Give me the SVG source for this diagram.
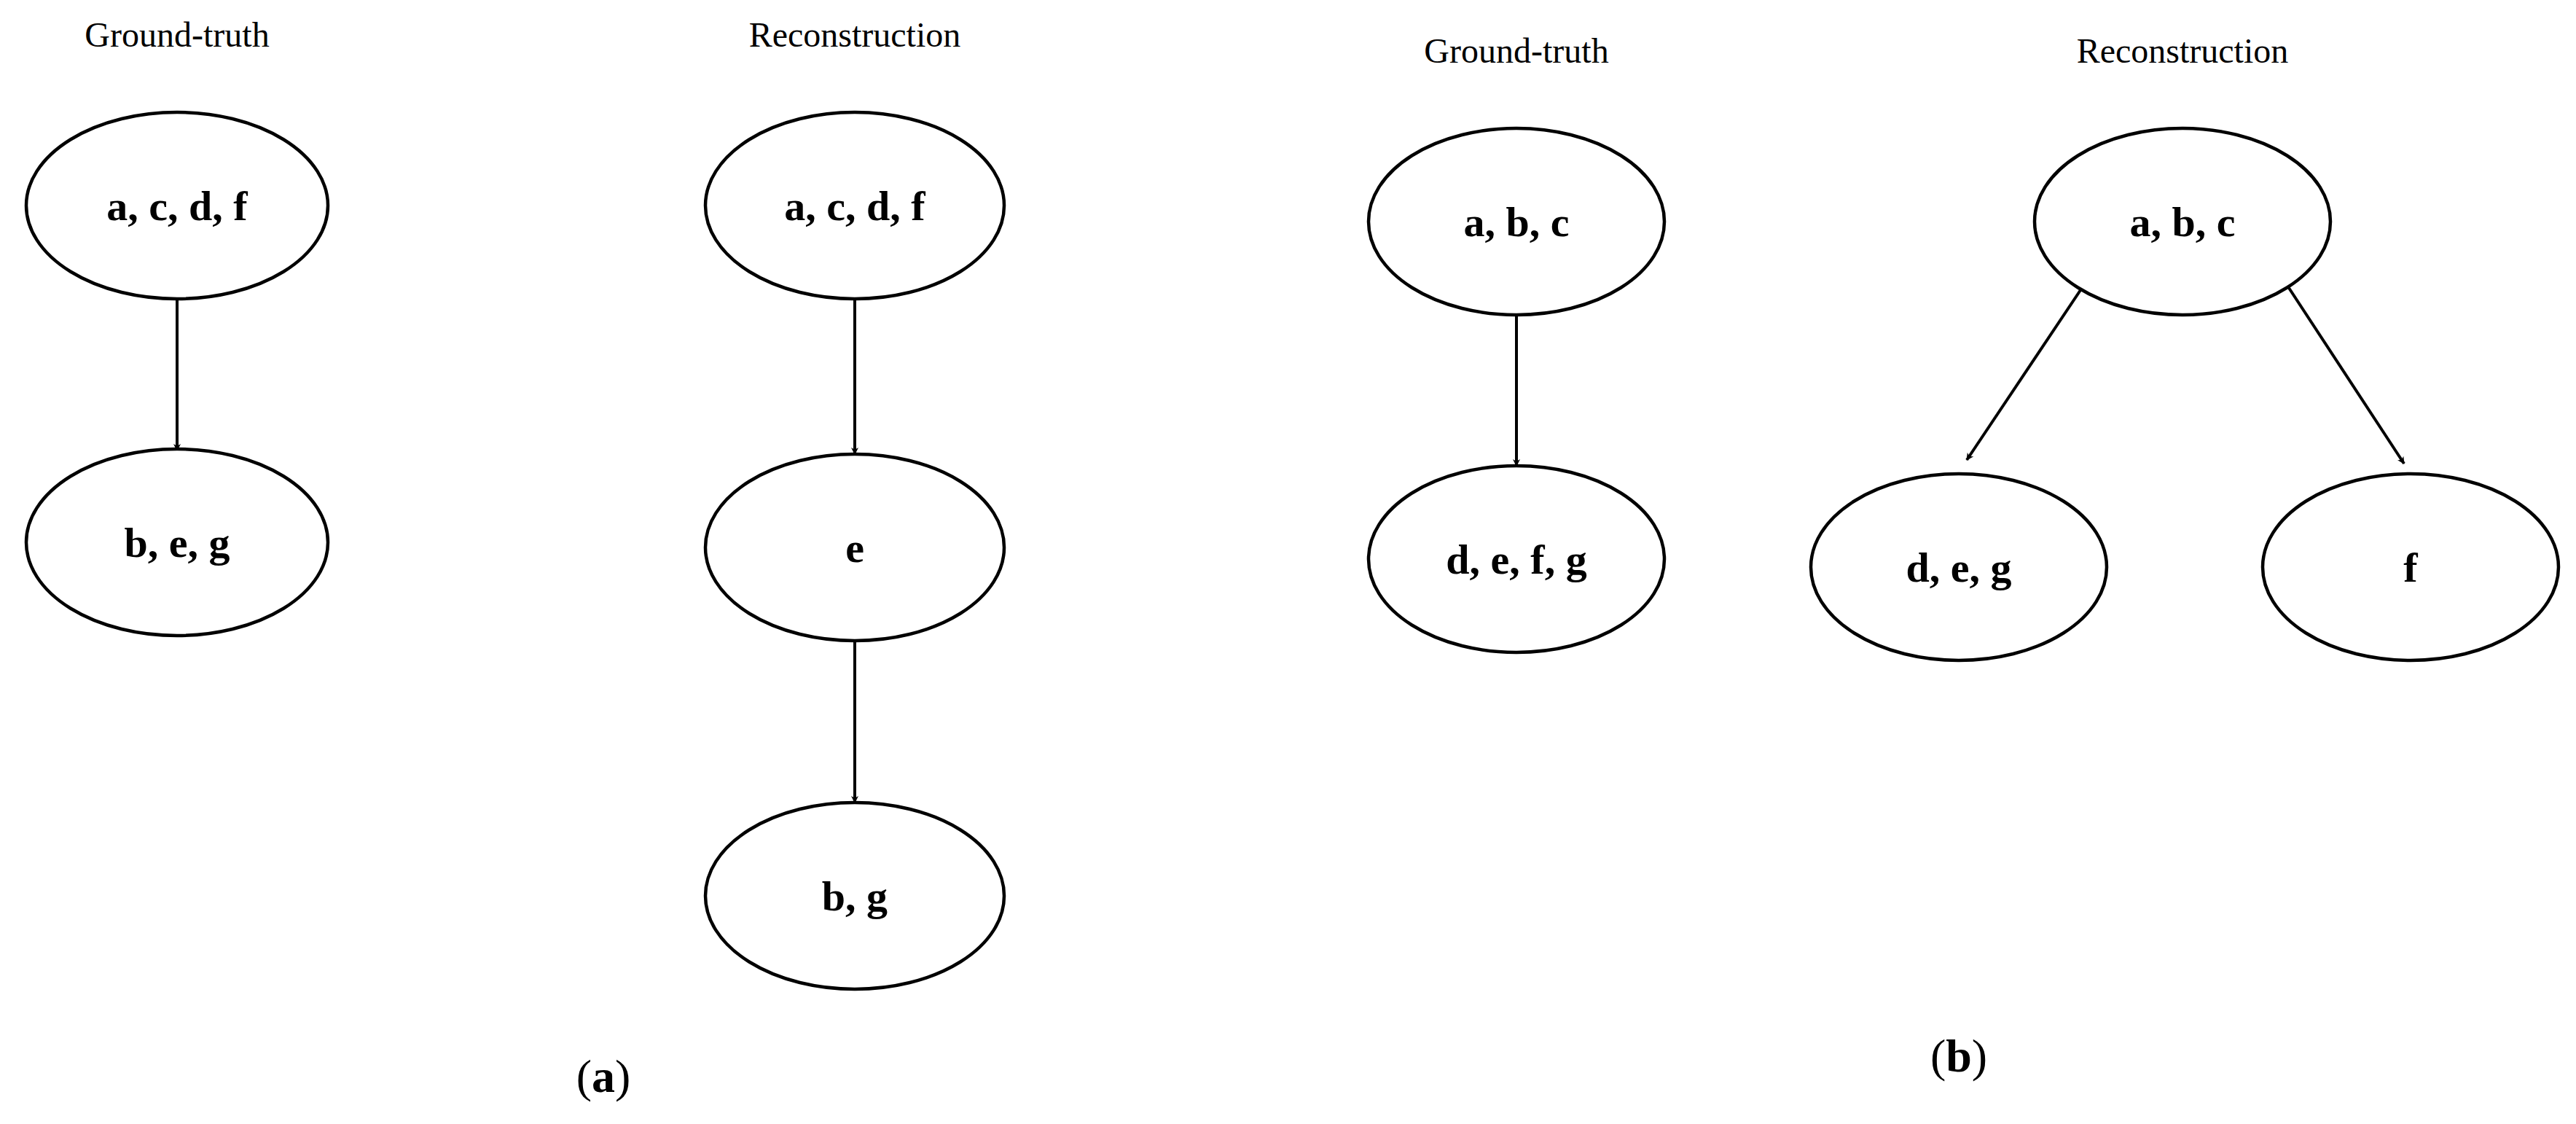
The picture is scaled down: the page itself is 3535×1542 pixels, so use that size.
<svg xmlns="http://www.w3.org/2000/svg" width="3535" height="1542" viewBox="0 0 3535 1542">
<style>
.n{fill:#fff;stroke:#000;stroke-width:4.5}
.t{font-family:"Liberation Serif",serif;font-weight:bold;font-size:58px;text-anchor:middle;dominant-baseline:central}
.h{font-family:"Liberation Serif",serif;font-size:48px;text-anchor:middle}
.c{stroke:#000;stroke-width:4;fill:none;marker-end:url(#a)}
.s{font-family:"Liberation Serif",serif;font-size:64px;text-anchor:middle}
</style>
<defs><marker id="a" markerWidth="10" markerHeight="10" refX="9" refY="5" orient="auto" markerUnits="userSpaceOnUse" viewBox="0 0 10 10"><path d="M0,0 L10,5 L0,10 L3,5 Z" fill="#000" transform="scale(1)"/></marker></defs>
<rect width="3535" height="1542" fill="#fff"/>
<text class="h" x="243" y="64">Ground-truth</text>
<text class="h" x="1173" y="64">Reconstruction</text>
<text class="h" x="2081" y="86">Ground-truth</text>
<text class="h" x="2995" y="86">Reconstruction</text>
<text class="s" x="828" y="1498">(<tspan font-weight="bold">a</tspan>)</text>
<text class="s" x="2688" y="1470">(<tspan font-weight="bold">b</tspan>)</text>
<g id="edges">
<line class="c" x1="243" y1="410" x2="243" y2="618"/>
<line class="c" x1="1173" y1="410" x2="1173" y2="623"/>
<line class="c" x1="1173" y1="879" x2="1173" y2="1101"/>
<line class="c" x1="2081" y1="432" x2="2081" y2="639"/>
<line class="c" x1="2857" y1="395" x2="2699" y2="631"/>
<line class="c" x1="3141" y1="395" x2="3299" y2="636"/>
</g>
<g id="a1"><ellipse class="n" cx="243" cy="282" rx="207" ry="128"/><text class="t" x="243" y="282">a, c, d, f</text></g>
<g id="a2"><ellipse class="n" cx="243" cy="744" rx="207" ry="128"/><text class="t" x="243" y="744">b, e, g</text></g>
<g id="a3"><ellipse class="n" cx="1173" cy="282" rx="205" ry="128"/><text class="t" x="1173" y="282">a, c, d, f</text></g>
<g id="a4"><ellipse class="n" cx="1173" cy="751" rx="205" ry="128"/><text class="t" x="1173" y="751">e</text></g>
<g id="a5"><ellipse class="n" cx="1173" cy="1229" rx="205" ry="128"/><text class="t" x="1173" y="1229">b, g</text></g>
<g id="b1"><ellipse class="n" cx="2081" cy="304" rx="203" ry="128"/><text class="t" x="2081" y="304">a, b, c</text></g>
<g id="b2"><ellipse class="n" cx="2081" cy="767" rx="203" ry="128"/><text class="t" x="2081" y="767">d, e, f, g</text></g>
<g id="b3"><ellipse class="n" cx="2995" cy="304" rx="203" ry="128"/><text class="t" x="2995" y="304">a, b, c</text></g>
<g id="b4"><ellipse class="n" cx="2688" cy="778" rx="203" ry="128"/><text class="t" x="2688" y="778">d, e, g</text></g>
<g id="b5"><ellipse class="n" cx="3308" cy="778" rx="203" ry="128"/><text class="t" x="3308" y="778">f</text></g>
</svg>
